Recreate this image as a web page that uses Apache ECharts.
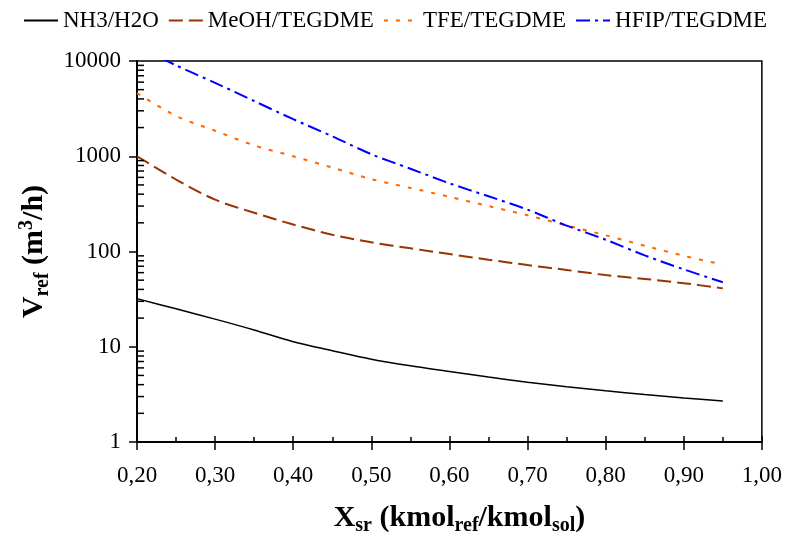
<!DOCTYPE html>
<html>
<head>
<meta charset="utf-8">
<script src="https://cdn.jsdelivr.net/npm/echarts@6/dist/echarts.min.js"></script>
<style>html,body{margin:0;padding:0;background:#fff}#c{width:785px;height:541px}</style>
</head>
<body>
<div id="c"></div>
<script>
const xValues = [0.20,0.25,0.30,0.35,0.40,0.45,0.50,0.55,0.60,0.65,0.70,0.75,0.80,0.85,0.90,0.95];
const nh3H2o   = [32, 25, 19.5, 15, 11.3, 9.1, 7.4, 6.3, 5.5, 4.8, 4.25, 3.8, 3.45, 3.15, 2.9, 2.7];
const meohTeg  = [1000, 570, 350, 255, 192, 150, 125, 108, 94, 82, 72, 64, 56.5, 51.5, 46.5, 41];
const tfeTeg   = [4600, 2650, 1850, 1300, 1000, 760, 575, 465, 375, 300, 240, 188, 148, 115, 90, 73];
const hfipTeg  = [14500, 9000, 5900, 3800, 2450, 1620, 1050, 740, 520, 380, 275, 187, 133, 91, 65, 47.5];
const seriesNames = ['NH3/H2O', 'MeOH/TEGDME', 'TFE/TEGDME', 'HFIP/TEGDME'];
const yMinorTickValues = [2,3,4,5,6,7,8,9,20,30,40,50,60,70,80,90,200,300,400,500,600,700,800,900,2000,3000,4000,5000,6000,7000,8000,9000];

const FONT = '"Liberation Serif", "Times New Roman", serif';
const pair = arr => xValues.map((x, i) => [x, arr[i]]);

const chart = echarts.init(document.getElementById('c'), null, {renderer: 'canvas'});

const titleRich = {
  m: {fontFamily: FONT, fontSize: 30, fontWeight: 'bold', color: '#000', lineHeight: 36, verticalAlign: 'middle'},
  sub: {fontFamily: FONT, fontSize: 20, fontWeight: 'bold', color: '#000', lineHeight: 18, verticalAlign: 'bottom'},
  sup: {fontFamily: FONT, fontSize: 20, fontWeight: 'bold', color: '#000', lineHeight: 18, verticalAlign: 'top'}
};

function lineSeries(name, data, color, type, width) {
  return {
    name, type: 'line', data: pair(data), symbol: 'none', showSymbol: false,
    smooth: 0.3, clip: true,
    lineStyle: {color, width, type},
    itemStyle: {color},
    z: 3
  };
}

chart.setOption({
  animation: false,
  backgroundColor: '#fff',
  textStyle: {fontFamily: FONT},
  legend: {
    data: seriesNames,
    left: 18, top: 4,
    itemWidth: 34, itemHeight: 14, itemGap: 9,
    itemStyle: {opacity: 0},
    textStyle: {fontFamily: FONT, fontSize: 23, color: '#000'}
  },
  grid: {
    left: 137, right: 23, top: 61, bottom: 98,
    show: true, borderColor: '#000', borderWidth: 1.5, backgroundColor: 'transparent'
  },
  xAxis: [{
    type: 'value', min: 0.2, max: 1.0, interval: 0.1, position: 'bottom',
    axisLine: {show: true, onZero: false, lineStyle: {color: '#000', width: 2}},
    axisTick: {show: true, inside: true, length: 6, lineStyle: {color: '#000', width: 1.5}},
    minorTick: {show: true, splitNumber: 2, length: 5, lineStyle: {color: '#000', width: 1.5}},
    splitLine: {show: false},
    axisLabel: {
      margin: 22, fontFamily: FONT, fontSize: 23, color: '#000',
      formatter: v => v.toFixed(2).replace('.', ',')
    },
    name: '{m|X}{sub|sr}{m| (kmol}{sub|ref}{m|/kmol}{sub|sol}{m|)}',
    nameLocation: 'middle', nameGap: 58,
    nameTextStyle: {rich: titleRich, padding: [0, 0, 0, 20]}
  }, {
    type: 'value', min: 0.2, max: 1.0, interval: 0.1, position: 'bottom', offset: 0,
    axisLine: {show: false, onZero: false},
    axisTick: {show: true, inside: false, length: 8, lineStyle: {color: '#000', width: 1.5}},
    axisLabel: {show: false}, splitLine: {show: false}
  }],
  yAxis: {
    type: 'log', logBase: 10, min: 1, max: 10000,
    axisLine: {show: true, onZero: false, lineStyle: {color: '#000', width: 2}},
    axisTick: {show: true, inside: false, length: 8, lineStyle: {color: '#000', width: 1.5}},
    splitLine: {show: false},
    axisLabel: {margin: 16, fontFamily: FONT, fontSize: 23, color: '#000',
      formatter: v => String(Math.round(v))},
    name: '{m|V}{sub|ref}{m| (m}{sup|3}{m|/h)}',
    nameLocation: 'middle', nameGap: 82, nameRotate: 90,
    nameTextStyle: {rich: titleRich}
  },
  series: [
    lineSeries(seriesNames[0], nh3H2o, '#000000', 'solid', 1.5),
    lineSeries(seriesNames[1], meohTeg, '#993300', [14, 6], 2),
    lineSeries(seriesNames[2], tfeTeg, '#FF6600', [4, 8], 2),
    lineSeries(seriesNames[3], hfipTeg, '#0000FF', [14, 5, 3, 5], 2),
    {
      type: 'custom', silent: true, z: 5, clip: false,
      data: yMinorTickValues.map(v => [0.2, v]),
      renderItem: (params, api) => {
        const p = api.coord([api.value(0), api.value(1)]);
        return {type: 'line', shape: {x1: p[0], y1: p[1], x2: p[0] + 7, y2: p[1]},
                style: {stroke: '#000', lineWidth: 1.5}};
      }
    }
  ]
});
</script>
</body>
</html>
